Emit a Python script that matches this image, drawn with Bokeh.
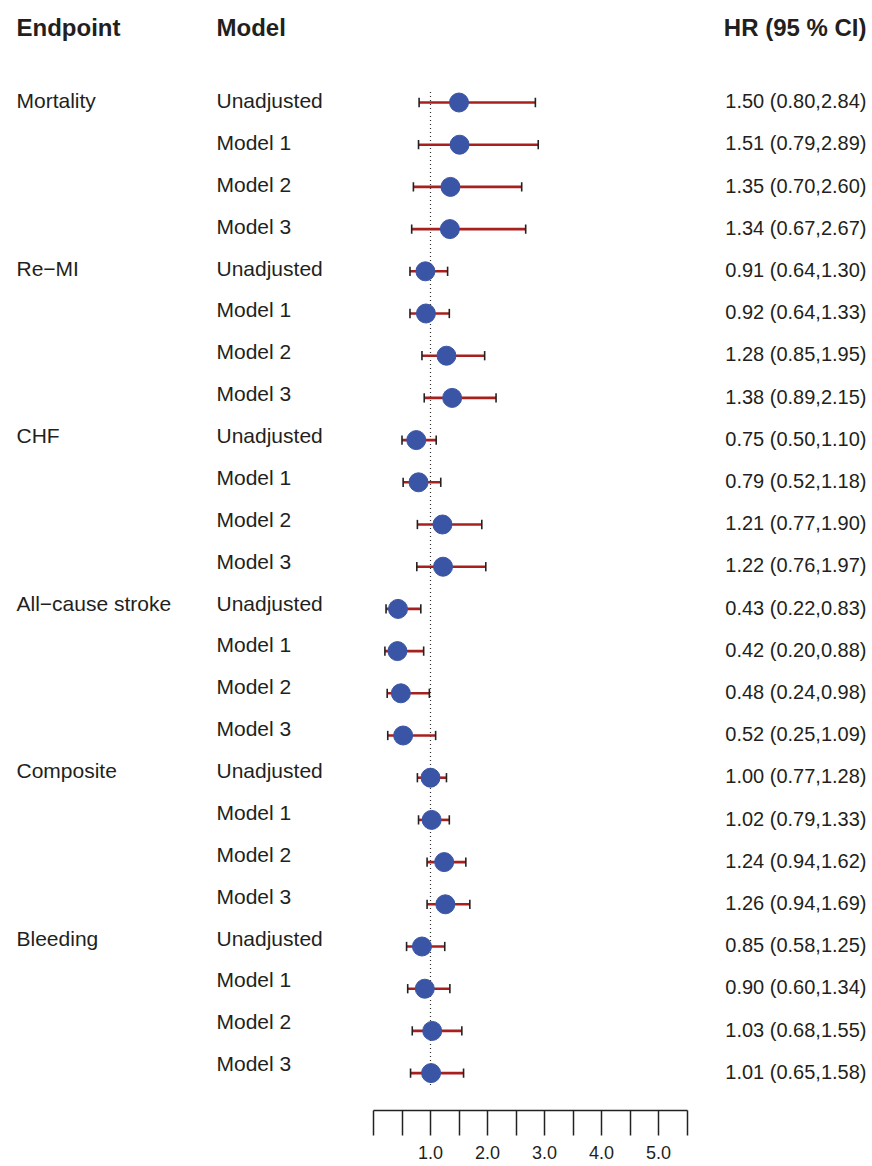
from bokeh.plotting import figure
from bokeh.models import ColumnDataSource, Range1d, LinearAxis, FixedTicker
from bokeh.core.properties import value
from bokeh.embed import file_html
from bokeh.resources import INLINE

endpoints = ["Mortality", "Re\u2212MI", "CHF", "All\u2212cause stroke", "Composite", "Bleeding"]
models = ["Unadjusted", "Model 1", "Model 2", "Model 3"]
hr = [1.50, 1.51, 1.35, 1.34,
      0.91, 0.92, 1.28, 1.38,
      0.75, 0.79, 1.21, 1.22,
      0.43, 0.42, 0.48, 0.52,
      1.00, 1.02, 1.24, 1.26,
      0.85, 0.90, 1.03, 1.01]
lo = [0.80, 0.79, 0.70, 0.67,
      0.64, 0.64, 0.85, 0.89,
      0.50, 0.52, 0.77, 0.76,
      0.22, 0.20, 0.24, 0.25,
      0.77, 0.79, 0.94, 0.94,
      0.58, 0.60, 0.68, 0.65]
hi = [2.84, 2.89, 2.60, 2.67,
      1.30, 1.33, 1.95, 2.15,
      1.10, 1.18, 1.90, 1.97,
      0.83, 0.88, 0.98, 1.09,
      1.28, 1.33, 1.62, 1.69,
      1.25, 1.34, 1.55, 1.58]
tick_values = [0.0, 0.5, 1.0, 1.5, 2.0, 2.5, 3.0, 3.5, 4.0, 4.5, 5.0, 5.5]
tick_labels = ["", "", "1.0", "", "2.0", "", "3.0", "", "4.0", "", "5.0", ""]
headers = ["Endpoint", "Model", "HR (95 % CI)"]

FONT = "Liberation Sans"
TXT = "#231F20"
n = len(hr)
rows = list(range(n))

# pixel mapping helpers (frame 872 x 1110; x: 57 px per unit, 0 at px 373)
FW, FH = 872, 1110
PXU = 57.0
X0 = 373.0
ROW = 42.2
Y0 = 102.0
def xd(px):
    return (px - X0) / PXU
def yd(px):
    return (px - Y0) / ROW

p = figure(frame_width=FW, frame_height=FH, output_backend="svg", toolbar_location=None,
           x_axis_type=None, y_axis_type=None, min_border=0,
           x_range=Range1d(xd(0), xd(FW)), y_range=Range1d(yd(FH), yd(0)))
p.outline_line_color = None
p.background_fill_color = "white"
p.border_fill_color = "white"

src = ColumnDataSource(dict(
    y=rows, hr=hr, lo=lo, hi=hi,
    ylo=[r - 0.11 for r in rows], yhi=[r + 0.11 for r in rows],
    ytxt=[(r * 41.88 - 2) / ROW for r in rows],
    yhr=[r - 0.03 for r in rows],
    model=[models[r % 4] for r in rows],
    lab=["%.2f (%.2f,%.2f)" % (a, b, c) for a, b, c in zip(hr, lo, hi)],
))

# reference line at HR = 1
p.segment(x0=[1.0], y0=[-0.25], x1=[1.0], y1=[n - 0.7], line_color="#333333",
          line_width=1.2, line_dash="1 3")

p.segment(x0="lo", y0="y", x1="hi", y1="y", source=src, line_color="#A8201E", line_width=2.6)
p.segment(x0="lo", y0="ylo", x1="lo", y1="yhi", source=src, line_color="#222222", line_width=1.6)
p.segment(x0="hi", y0="ylo", x1="hi", y1="yhi", source=src, line_color="#222222", line_width=1.6)
p.scatter(x="hr", y="y", source=src, size=19, fill_color="#3A55A6", line_color="#3A55A6")

# text columns
p.text(x=xd(216), y="ytxt", text="model", source=src,
       text_font=value(FONT), text_font_size="21px", text_color=TXT,
       text_baseline="middle", text_align="left")
p.text(x=[xd(16)] * len(endpoints), y=[(i * 4 * 41.88 - 2) / ROW for i in range(len(endpoints))],
       text=endpoints, text_font=value(FONT), text_font_size="21px", text_color=TXT,
       text_baseline="middle", text_align="left")
p.text(x=xd(866), y="yhr", text="lab", source=src,
       text_font=value(FONT), text_font_size="20px", text_color=TXT,
       text_baseline="middle", text_align="right")
p.text(x=[xd(16), xd(216)], y=[yd(27)] * 2, text=headers[:2],
       text_font=value(FONT), text_font_size="24px", text_font_style="bold", text_color=TXT,
       text_baseline="middle", text_align="left")
p.text(x=[xd(866)], y=[yd(27)], text=headers[2:],
       text_font=value(FONT), text_font_size="24px", text_font_style="bold", text_color=TXT,
       text_baseline="middle", text_align="right")

ax = LinearAxis(ticker=FixedTicker(ticks=tick_values), bounds=(tick_values[0], tick_values[-1]),
                major_label_overrides={v: l for v, l in zip(tick_values, tick_labels)})
ax.axis_line_color = "#222222"
ax.axis_line_width = 1.5
ax.major_tick_line_color = "#222222"
ax.major_tick_line_width = 1.5
ax.major_tick_in = 0
ax.major_tick_out = 25
ax.minor_tick_line_color = None
ax.major_label_standoff = 10
ax.major_label_text_font = FONT
ax.major_label_text_font_size = "18px"
ax.major_label_text_color = TXT
p.add_layout(ax, "below")

open("out.html", "w").write(file_html(p, INLINE))
